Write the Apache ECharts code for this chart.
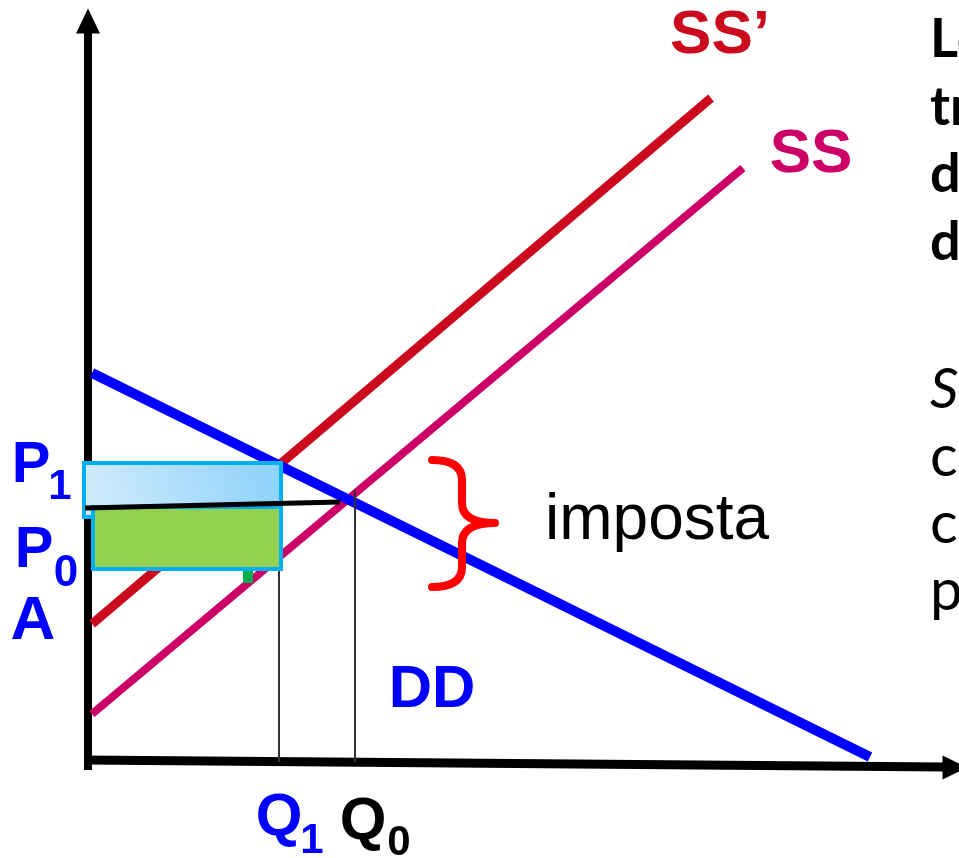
<!DOCTYPE html>
<html>
<head>
<meta charset="utf-8">
<title>Imposta</title>
<script src="https://cdn.jsdelivr.net/npm/echarts@6/dist/echarts.min.js"></script>
<style>html,body{margin:0;padding:0;background:#fff}</style>
</head>
<body>
<div id="main" style="width:959px;height:858px;"></div>
<script type="text/javascript">
var myChart = echarts.init(document.getElementById('main'));

// quantita' sull'asse x, prezzo sull'asse y (origine all'incrocio degli assi)
var ssPrimo = [[2, 138], [621, 664]];
var ss = [[2, 48], [653, 594]];
var dd = [[2, 389], [780, 5]];
var asseY = [[-2, -8], [-2, 729]];
var asseX = [[-6, 2], [855, -5]];
var frecce = [[-2, 741, 0], [865, -5.5, -90]]; // q, p, rotazione
var lineaQ1 = [[189, 0], [189, 194]];
var lineaQ0 = [[265, 0], [265, 272]];
var lineaNera = [[-5, 254], [250, 260]];
// rettangoli: q da, q a, p da, p a
var rettBlu = [[-6, 191, 245, 299]];
var rettVerde = [[3, 191, 193, 255]];
var segnoVerde = [[153, 163, 179, 192]];
// parentesi: q sinistra, q centro, q punta, p basso, p centro, p alto
var parentesi = [[342, 372, 405, 175, 239, 302]];

// etichette
var testi = ['SS\u2019', 'SS', 'DD', 'P', '1', 'P', '0', 'A', 'Q', '1', 'Q', '0',
	'imposta', 'Lo', 'tr', 'd', 'd', 'S', 'c', 'c', 'p'];
var posTesti = [[630, 726], [721, 607], [342, 72], [-59, 296], [-30, 275], [-56, 211], [-24, 188],
	[-57, 140], [189, -56], [222, -79], [273, -60], [309, -81],
	[455, 241], [840, 722], [840, 654], [840, 587], [840, 519],
	[840, 372], [840, 305], [840, 238], [840, 171]];

var arial = '"Liberation Sans", Arial, sans-serif';
var lato = 'Lato, "Open Sans", sans-serif';
function st(size, weight, color, family, align, style) {
	return { size: size, weight: weight, color: color, family: family || arial, align: align || 'center', style: style || 'normal' };
}
var stiliTesti = [
	st(62, 'bold', '#cc0a1e'), st(62, 'bold', '#cc0066'), st(60, 'bold', '#0000ff'),
	st(58, 'bold', '#0000ff'), st(42, 'bold', '#0000ff'),
	st(58, 'bold', '#0000ff'), st(44, 'bold', '#0000ff'),
	st(62, 'bold', '#0000ff'),
	st(60, 'bold', '#0000ff'), st(42, 'bold', '#0000ff'),
	st(60, 'bold', '#000000'), st(42, 'bold', '#000000'),
	st(64, 'normal', '#000000', arial, 'left'),
	st(54, 'bold', '#000', lato, 'left'), st(54, 'bold', '#000', lato, 'left'),
	st(54, 'bold', '#000', lato, 'left'), st(54, 'bold', '#000', lato, 'left'),
	st(56, 'normal', '#000', lato, 'left', 'italic'), st(58, 'normal', '#000', lato, 'left'),
	st(58, 'normal', '#000', lato, 'left'), st(58, 'normal', '#000', lato, 'left')
];

function linea(data, color, width, z) {
	return {
		type: 'line', data: data, showSymbol: false, silent: true, z: z || 2,
		lineStyle: { color: color, width: width, cap: 'butt' }
	};
}

function rettangolo(data, fill, stroke, width) {
	return {
		type: 'custom', data: data, silent: true, z: 3,
		renderItem: function(params, api) {
			var a = api.coord([api.value(0), api.value(3)]);
			var b = api.coord([api.value(1), api.value(2)]);
			return {
				type: 'rect',
				shape: { x: a[0], y: a[1], width: b[0] - a[0], height: b[1] - a[1] },
				style: { fill: fill, stroke: stroke, lineWidth: width }
			};
		}
	};
}

var gradiente = new echarts.graphic.LinearGradient(0, 1, 1, 0, [
	{ offset: 0, color: '#d4ecfc' },
	{ offset: 1, color: '#8bd1fa' }
]);

option = {
	animation: false,
	grid: { left: 0, right: 0, top: 0, bottom: 0 },
	xAxis: { type: 'value', min: -90, max: 869, show: false },
	yAxis: { type: 'value', min: -96, max: 762, show: false },
	series: [
		linea(asseY, '#000', 8),
		linea(asseX, '#000', 9),
		{
			type: 'scatter', data: frecce, silent: true,
			symbol: 'triangle', symbolSize: [24, 25],
			symbolRotate: function(v) { return v[2]; },
			itemStyle: { color: '#000', opacity: 1 }
		},
		linea(ssPrimo, '#cc0a1e', 9),
		linea(ss, '#cc0066', 8),
		linea(dd, '#0000ff', 10),
		linea(lineaQ1, '#333', 2),
		linea(lineaQ0, '#333', 2),
		rettangolo(segnoVerde, '#00b050', null, 0),
		rettangolo(rettBlu, gradiente, '#00b0f0', 4),
		rettangolo(rettVerde, '#92d050', '#00b0f0', 4),
		linea(lineaNera, '#000', 5, 4),
		{
			type: 'custom', data: parentesi, silent: true, z: 4,
			renderItem: function(params, api) {
				var xl = api.coord([api.value(0), 0])[0];
				var xm = api.coord([api.value(1), 0])[0];
				var xt = api.coord([api.value(2), 0])[0];
				var yb = api.coord([0, api.value(3)])[1];
				var ym = api.coord([0, api.value(4)])[1];
				var yt = api.coord([0, api.value(5)])[1];
				var r = 20;
				var d = 'M' + xl + ' ' + yt +
					' Q' + xm + ' ' + yt + ' ' + xm + ' ' + (yt + r) +
					' L' + xm + ' ' + (ym - r) +
					' Q' + xm + ' ' + ym + ' ' + xt + ' ' + ym +
					' Q' + xm + ' ' + ym + ' ' + xm + ' ' + (ym + r) +
					' L' + xm + ' ' + (yb - r) +
					' Q' + xm + ' ' + yb + ' ' + xl + ' ' + yb;
				return {
					type: 'path',
					shape: { pathData: d, x: xl, y: yt, width: xt - xl, height: yb - yt, layout: 'cover' },
					style: { fill: null, stroke: '#ff0000', lineWidth: 8, lineCap: 'round', lineJoin: 'round' }
				};
			}
		},
		{
			type: 'custom', data: posTesti, silent: true, z: 5,
			renderItem: function(params, api) {
				var p = api.coord([api.value(0), api.value(1)]);
				var s = stiliTesti[params.dataIndex];
				return {
					type: 'text', x: p[0], y: p[1],
					style: {
						text: testi[params.dataIndex], fill: s.color,
						fontSize: s.size, fontWeight: s.weight, fontFamily: s.family, fontStyle: s.style,
						align: s.align, verticalAlign: 'middle'
					}
				};
			}
		}
	]
};

myChart.setOption(option);
</script>
</body>
</html>
